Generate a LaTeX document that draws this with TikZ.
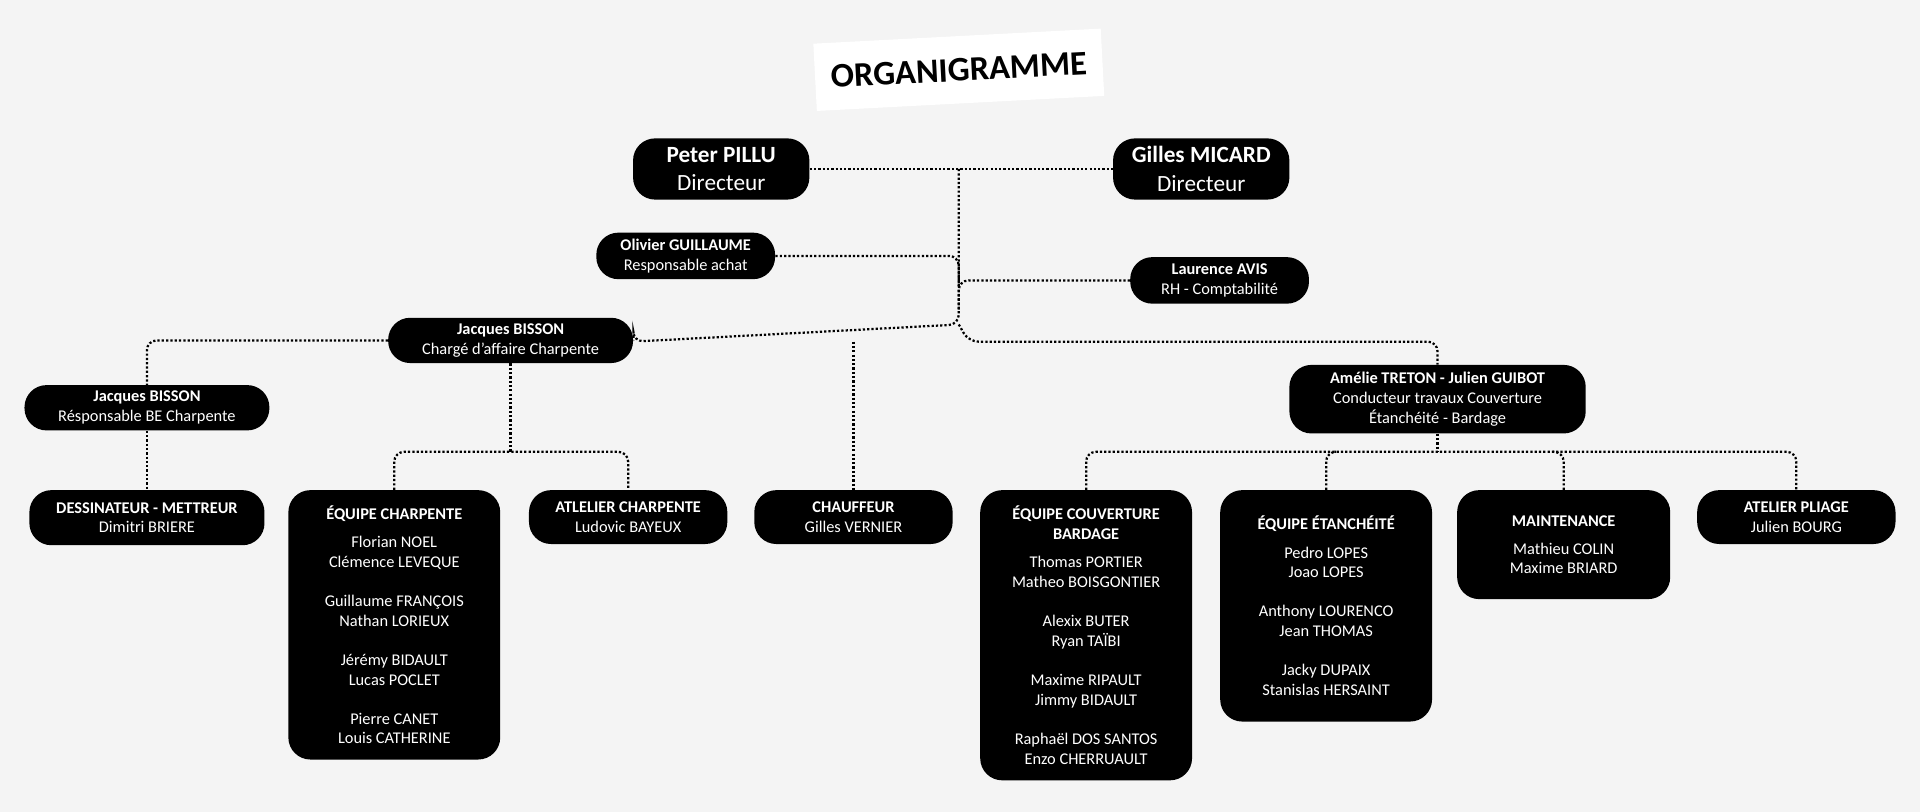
\documentclass[tikz,border=0pt]{standalone}
\usepackage{fontspec}
\setmainfont{Carlito}
\usetikzlibrary{positioning}
\definecolor{bgc}{HTML}{F4F4F4}

\begin{document}
\begin{tikzpicture}[
  x=0.025cm,y=-0.025cm,
  every node/.style={font=\fontsize{9.5}{11.4}\selectfont},
  box/.style={fill=black,text=white,align=center,rounded corners=0.45cm,inner sep=0pt},
  big/.style={box,font=\fontsize{13.5}{16.5}\selectfont},
  team/.style={box,anchor=north},
  link/.style={line width=1.3pt,dash pattern=on 1.3pt off 1.2pt,rounded corners=0.2cm}
]
  \useasboundingbox[fill=bgc] (0,0) rectangle (1568,663);

  % Title
  \node[fill=white,rotate=3,minimum width=235*0.025cm,minimum height=55*0.025cm,
    font=\fontsize{20}{22}\selectfont\bfseries] (title) at (783,57) {ORGANIGRAMME};

  % Directors
  \node[big,minimum width=144*0.025cm,minimum height=50*0.025cm] (peter)  at (589,138) {\textbf{Peter PILLU}\\Directeur};
  \node[big,minimum width=144*0.025cm,minimum height=50*0.025cm] (gilles) at (981,138) {\textbf{Gilles MICARD}\\Directeur};

  % Staff
  \node[box,minimum width=146*0.025cm,minimum height=38*0.025cm] (olivier)  at (560,209) {\textbf{Olivier GUILLAUME}\\Responsable achat};
  \node[box,minimum width=146*0.025cm,minimum height=38*0.025cm] (laurence) at (996,229) {\textbf{Laurence AVIS}\\RH - Comptabilité};
  \node[box,minimum width=200*0.025cm,minimum height=37*0.025cm] (charge)   at (417,278) {\textbf{Jacques BISSON}\\Chargé d'affaire Charpente};
  \node[box,minimum width=200*0.025cm,minimum height=37*0.025cm] (respbe)   at (120,333) {\textbf{Jacques BISSON}\\Résponsable BE Charpente};
  \node[box,minimum width=242*0.025cm,minimum height=56*0.025cm] (amelie)   at (1174,326) {\textbf{Amélie TRETON - Julien GUIBOT}\\Conducteur travaux Couverture\\Étanchéité - Bardage};

  % Teams
  \node[team,minimum width=192*0.025cm,minimum height=45*0.025cm] (dessin)  at (120,400) {\textbf{DESSINATEUR - METTREUR}\\Dimitri BRIERE};
  \node[team,minimum width=173*0.025cm,minimum height=220*0.025cm] (eqcharp) at (322,400) {\textbf{ÉQUIPE CHARPENTE}\\[5pt]Florian NOEL\\Clémence LEVEQUE\\[11.4pt]Guillaume FRANÇOIS\\Nathan LORIEUX\\[11.4pt]Jérémy BIDAULT\\Lucas POCLET\\[11.4pt]Pierre CANET\\Louis CATHERINE};
  \node[team,minimum width=162*0.025cm,minimum height=44*0.025cm] (atelier) at (513,400) {\textbf{ATLELIER CHARPENTE}\\Ludovic BAYEUX};
  \node[team,minimum width=162*0.025cm,minimum height=44*0.025cm] (chauff)  at (697,400) {\textbf{CHAUFFEUR}\\Gilles VERNIER};
  \node[team,minimum width=173*0.025cm,minimum height=237*0.025cm] (eqcouv)  at (887,400) {\textbf{ÉQUIPE COUVERTURE}\\\textbf{BARDAGE}\\[5pt]Thomas PORTIER\\Matheo BOISGONTIER\\[11.4pt]Alexix BUTER\\Ryan TAÏBI\\[11.4pt]Maxime RIPAULT\\Jimmy BIDAULT\\[11.4pt]Raphaël DOS SANTOS\\Enzo CHERRUAULT};
  \node[team,minimum width=173*0.025cm,minimum height=189*0.025cm] (eqetan)  at (1083,400) {\textbf{ÉQUIPE ÉTANCHÉITÉ}\\[5pt]Pedro LOPES\\Joao LOPES\\[11.4pt]Anthony LOURENCO\\Jean THOMAS\\[11.4pt]Jacky DUPAIX\\Stanislas HERSAINT};
  \node[team,minimum width=174*0.025cm,minimum height=89*0.025cm] (maint)   at (1277,400) {\textbf{MAINTENANCE}\\[5pt]Mathieu COLIN\\Maxime BRIARD};
  \node[team,minimum width=162*0.025cm,minimum height=44*0.025cm] (pliage)  at (1467,400) {\textbf{ATELIER PLIAGE}\\Julien BOURG};

  % Junction points
  \coordinate (top)  at (783,138);
  \coordinate (bot)  at (783,279);
  \coordinate (cj)   at (417,369);
  \coordinate (aj)   at (1174,369);

  % Links
  \draw[link] (peter) -- (gilles);
  \draw[link] (top) -- (783,265) -- (bot -| charge.east) -- (charge.east);
  \draw[link] (783,265) -- (791,279) -- (bot -| amelie.north) -- (amelie.north);
  \draw[link] (olivier.east) -- (olivier.east -| top) -- (783,235);
  \draw[link] (laurence.west) -- (laurence.west -| top) -- (783,255);
  \draw[link] (charge.west) -- (charge.west -| respbe) -- (respbe.north);
  \draw[link] (respbe) -- (dessin);
  \draw[link] (chauff.north |- bot) -- (chauff.north);
  \draw[link] (charge.south) -- (cj);
  \draw[link] (eqcharp.north) -- (eqcharp.north |- cj) -- (atelier.north |- cj) -- (atelier.north);
  \draw[link] (amelie.south) -- (aj);
  \draw[link] (eqcouv.north) -- (eqcouv.north |- aj) -- (pliage.north |- aj) -- (pliage.north);
  \draw[link] (eqetan.north) -- (eqetan.north |- aj) -- (1090,369);
  \draw[link] (maint.north) -- (maint.north |- aj) -- (1268,369);
\end{tikzpicture}
\end{document}
